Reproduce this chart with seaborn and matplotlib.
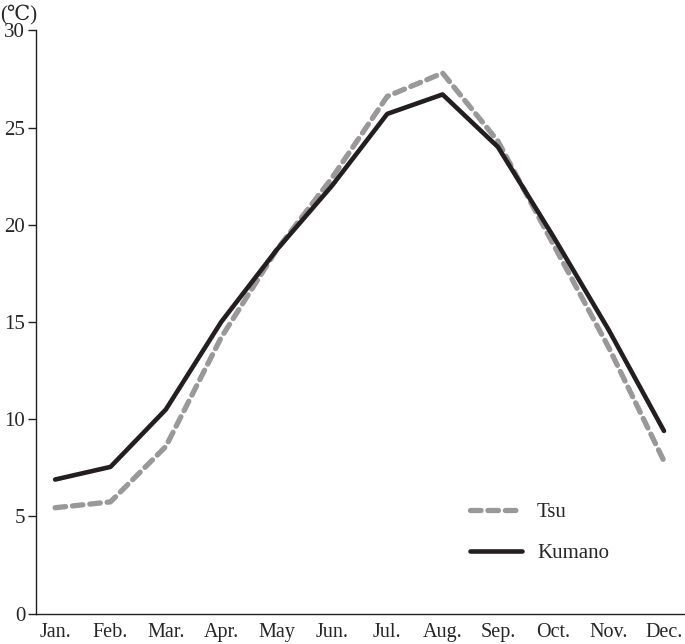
import pandas as pd
import matplotlib.pyplot as plt
import seaborn as sns

months = ['Jan.', 'Feb.', 'Mar.', 'Apr.', 'May', 'Jun.', 'Jul.', 'Aug.', 'Sep.', 'Oct.', 'Nov.', 'Dec.']
tsu = [5.45, 5.75, 8.6, 14.2, 18.7, 22.4, 26.6, 27.8, 24.3, 19.0, 13.7, 7.85]
kumano = [6.9, 7.55, 10.5, 15.0, 18.7, 22.0, 25.7, 26.7, 24.0, 19.4, 14.6, 9.4]

df = pd.DataFrame({'month': months, 'Tsu': tsu, 'Kumano': kumano})
df['x'] = range(len(months))

sns.set_style('white')
plt.rcParams['font.family'] = ['Liberation Serif', 'DejaVu Serif']

fig = plt.figure(figsize=(6.85, 6.44), dpi=100)
ax = fig.add_axes([0.053, 0.047, 0.947, 0.906])

sns.lineplot(data=df, x='x', y='Tsu', ax=ax, color='#999999', linewidth=3.8,
             linestyle=(0, (2.0, 1.3)), dash_capstyle='round', solid_capstyle='round',
             label='Tsu')
sns.lineplot(data=df, x='x', y='Kumano', ax=ax, color='#231f20', linewidth=3.3,
             solid_capstyle='round', label='Kumano')

ax.set_xlim(-0.34, 11.38)
ax.set_ylim(0, 30)
ax.set_xticks(range(len(months)))
ax.set_xticklabels(months)
ax.set_yticks([0, 5, 10, 15, 20, 25, 30])
ax.set_xlabel('')
ax.set_ylabel('')
ax.tick_params(axis='y', length=6, width=1, color='#231f20', labelsize=15, pad=2, direction='out', left=True)
ax.tick_params(axis='x', length=0, labelsize=14.5, pad=7)
for s in ['top', 'right']:
    ax.spines[s].set_visible(False)
for s in ['left', 'bottom']:
    ax.spines[s].set_color('#231f20')
    ax.spines[s].set_linewidth(1.0)

ax.legend(loc='lower left', bbox_to_anchor=(0.64, 0.055), frameon=False, fontsize=15,
          handlelength=2.5, labelspacing=1.0, handletextpad=0.7)

fig.text(0.0, 0.993, '(℃)', fontsize=15, va='top', ha='left')

fig.savefig('out.png', dpi=100)
